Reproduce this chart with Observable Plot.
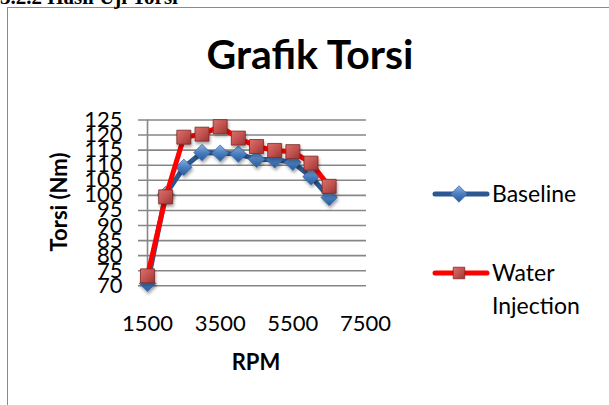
<!DOCTYPE html>
<html><head><meta charset="utf-8">
<script src="https://cdn.jsdelivr.net/npm/d3@7"></script>
<script src="https://cdn.jsdelivr.net/npm/@observablehq/plot@0.6"></script>
<style>
html,body{margin:0;padding:0;background:#fff}
body{width:609px;height:405px;overflow:hidden;position:relative;font-family:Lato,sans-serif}
#frame{position:absolute;left:7px;top:7px;width:800px;height:600px;border-left:1.5px solid #8a8a8a;border-top:1.5px solid #8a8a8a}
#chart{position:absolute;left:0;top:0}
#overlay{position:absolute;left:0;top:0;pointer-events:none}
</style>
</head><body>
<div id="frame"></div>
<div id="chart"></div>
<svg id="overlay" width="609" height="405"></svg>
<script>
// ---- data ----
const rpm = [1500, 2000, 2500, 3000, 3500, 4000, 4500, 5000, 5500, 6000, 6500];
const baseline = [70.8, 100.3, 109.3, 114.2, 114.0, 113.7, 112.0, 111.8, 111.0, 106.2, 99.3];
const waterInjection = [73.3, 99.5, 119.3, 120.3, 122.8, 119.0, 116.2, 114.9, 114.5, 110.7, 103.0];
const seriesNames = ["Baseline", "Water Injection"];
const yTicks = [70, 75, 80, 85, 90, 95, 100, 105, 110, 115, 120, 125];
const xTicks = [1500, 3500, 5500, 7500];
const headingText = "3.2.2 Hasil Uji Torsi";
const chartTitle = "Grafik Torsi";
const xTitle = "RPM";
const yTitle = "Torsi (Nm)";

const rowsB = rpm.map((r, i) => ({rpm: r, torsi: baseline[i]}));
const rowsW = rpm.map((r, i) => ({rpm: r, torsi: waterInjection[i]}));

const grid = "#878787";
const defs = () => {
  const d = d3.create("svg:defs");
  const gb = d.append("linearGradient").attr("id", "gBlue").attr("x1", 0).attr("y1", 0).attr("x2", 0).attr("y2", 1);
  gb.append("stop").attr("offset", "0%").attr("stop-color", "#8db3e6");
  gb.append("stop").attr("offset", "50%").attr("stop-color", "#4a7ebf");
  gb.append("stop").attr("offset", "100%").attr("stop-color", "#2a5a99");
  const gr = d.append("linearGradient").attr("id", "gRed").attr("x1", 0).attr("y1", 0).attr("x2", 1).attr("y2", 1);
  gr.append("stop").attr("offset", "0%").attr("stop-color", "#d9726e");
  gr.append("stop").attr("offset", "55%").attr("stop-color", "#c0504d");
  gr.append("stop").attr("offset", "100%").attr("stop-color", "#973532");
  const f = d.append("filter").attr("id", "shadow").attr("x", "-50%").attr("y", "-50%").attr("width", "200%").attr("height", "200%");
  f.append("feDropShadow").attr("dx", 1).attr("dy", 2.5).attr("stdDeviation", 1.5).attr("flood-color", "#000").attr("flood-opacity", 0.35);
  return d.node();
};

const chart = Plot.plot({
  width: 609,
  height: 405,
  marginLeft: 147,
  marginRight: 244,
  marginTop: 119.5,
  marginBottom: 119.7,
  style: {fontFamily: "Lato, sans-serif", background: "transparent", color: "#000"},
  x: {domain: [1500, 7500]},
  y: {domain: [70, 125]},
  marks: [
    defs,
    Plot.ruleY(yTicks, {stroke: grid, strokeWidth: 1.6, insetLeft: -9, insetRight: -1}),
    Plot.ruleX([1500], {stroke: grid, strokeWidth: 1.6, insetBottom: -5}),
    Plot.axisY({ticks: yTicks, tickSize: 0, tickPadding: 25, fontSize: 22, label: null, tickFormat: d => String(d)}),
    Plot.axisX({ticks: xTicks, tickSize: 0, tickPadding: 30, fontSize: 22, label: null, tickFormat: d => String(d)}),
    Plot.line(rowsB, {x: "rpm", y: "torsi", stroke: "#2b5891", strokeWidth: 5, strokeLinejoin: "round", strokeLinecap: "round"}),
    Plot.dot(rowsB, {x: "rpm", y: "torsi", symbol: "diamond2", r: 7.4, fill: "url(#gBlue)", stroke: "#3a6aa8", strokeWidth: 0.8}),
    Plot.line(rowsW, {x: "rpm", y: "torsi", stroke: "#ff0000", strokeWidth: 5, strokeLinejoin: "round", strokeLinecap: "round"}),
    Plot.dot(rowsW, {x: "rpm", y: "torsi", symbol: "square", r: 7.9, fill: "url(#gRed)", stroke: "#7c2826", strokeWidth: 0.8})
  ]
});
document.getElementById("chart").appendChild(chart);
d3.select(chart).selectAll('g[aria-label="dot"]').attr("filter", "url(#shadow)");

// ---- overlay text: heading, title, axis titles, legend ----
const ov = d3.select("#overlay");
ov.append("text").attr("x", 0).attr("y", 4)
  .attr("font-family", "Liberation Serif, serif").attr("font-weight", "bold").attr("font-size", 21).text(headingText);
ov.append("text").attr("x", 310).attr("y", 69).attr("text-anchor", "middle")
  .attr("font-family", "Lato, sans-serif").attr("font-weight", "bold").attr("font-size", 41).text(chartTitle);
ov.append("text").attr("transform", "translate(67,202) rotate(-90)").attr("text-anchor", "middle")
  .attr("font-family", "Lato, sans-serif").attr("font-weight", "bold").attr("font-size", 22).text(yTitle);
ov.append("text").attr("x", 256).attr("y", 370).attr("text-anchor", "middle")
  .attr("font-family", "Lato, sans-serif").attr("font-weight", "bold").attr("font-size", 22).text(xTitle);

const sym = d3.symbol();
const legendItems = [
  {name: seriesNames[0], y: 194, line: "#2b5891", shape: d3.symbolDiamond2, size: Math.PI * 7.4 * 7.4, fill: "url(#gBlue2)", stroke: "#3a6aa8", lines: ["Baseline"]},
  {name: seriesNames[1], y: 273, line: "#ff0000", shape: d3.symbolSquare, size: Math.PI * 6.5 * 6.5, fill: "url(#gRed2)", stroke: "#7c2826", lines: ["Water", "Injection"]}
];
const od = ov.append("defs");
const gb2 = od.append("linearGradient").attr("id", "gBlue2").attr("x1", 0).attr("y1", 0).attr("x2", 0).attr("y2", 1);
gb2.append("stop").attr("offset", "0%").attr("stop-color", "#8db3e6");
gb2.append("stop").attr("offset", "50%").attr("stop-color", "#4a7ebf");
gb2.append("stop").attr("offset", "100%").attr("stop-color", "#2a5a99");
const gr2 = od.append("linearGradient").attr("id", "gRed2").attr("x1", 0).attr("y1", 0).attr("x2", 1).attr("y2", 1);
gr2.append("stop").attr("offset", "0%").attr("stop-color", "#d9726e");
gr2.append("stop").attr("offset", "55%").attr("stop-color", "#c0504d");
gr2.append("stop").attr("offset", "100%").attr("stop-color", "#973532");
for (const it of legendItems) {
  ov.append("line").attr("x1", 435).attr("x2", 487).attr("y1", it.y).attr("y2", it.y)
    .attr("stroke", it.line).attr("stroke-width", 5).attr("stroke-linecap", "round");
  ov.append("path").attr("transform", `translate(459,${it.y})`).attr("d", sym.type(it.shape).size(it.size)())
    .attr("fill", it.fill).attr("stroke", it.stroke).attr("stroke-width", 0.8);
  it.lines.forEach((t, k) => {
    ov.append("text").attr("x", 492).attr("y", it.y + 8 + k * 33)
      .attr("font-family", "Lato, sans-serif").attr("font-size", 23).text(t);
  });
}
</script>
</body></html>
